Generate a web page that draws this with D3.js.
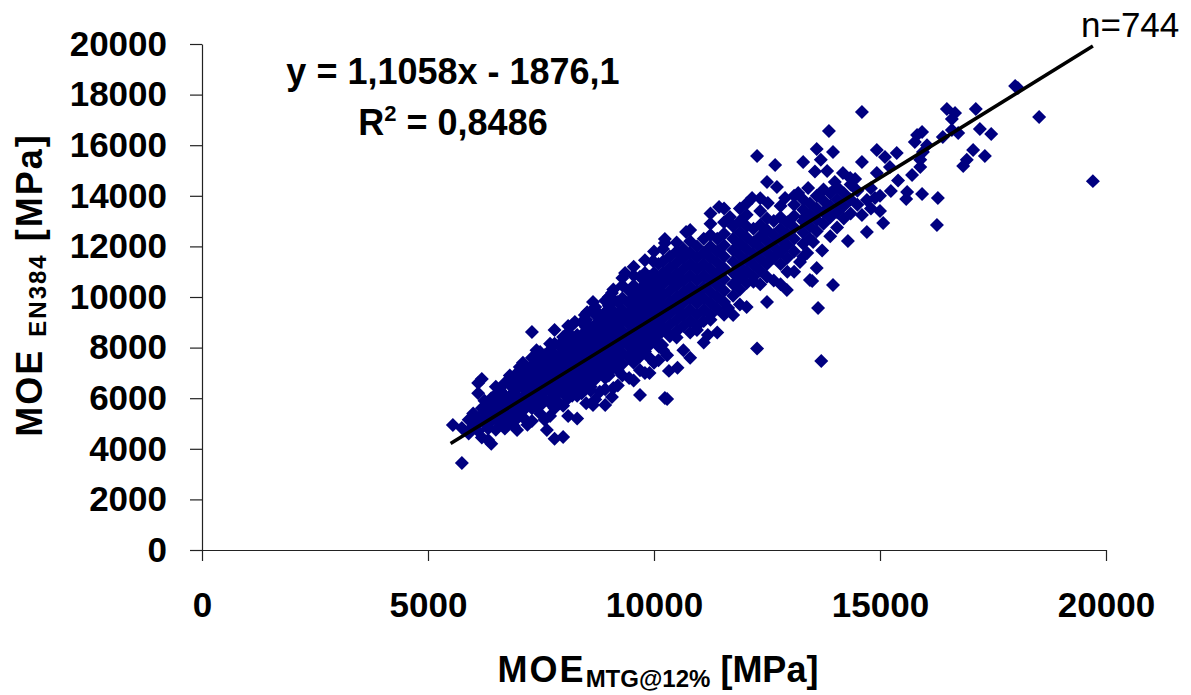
<!DOCTYPE html>
<html><head><meta charset="utf-8">
<script src="https://cdn.jsdelivr.net/npm/d3@7"></script>
<style>
html,body{margin:0;padding:0;background:#fff;}
svg{display:block;font-family:Arial,"Liberation Sans",sans-serif;}
</style></head><body>
<svg id="chart" width="1191" height="695"></svg>
<script>
// ---- data ----
const xTicks = [0, 5000, 10000, 15000, 20000];
const yTicks = [0, 2000, 4000, 6000, 8000, 10000, 12000, 14000, 16000, 18000, 20000];
const fitSlope = 1.1058;
const fitIntercept = -1876.1;
const fitRange = [5500, 19710];
const equationLabel = "y = 1,1058x - 1876,1";
const r2Label = "0,8486";
const sampleLabel = "n=744";
// each entry: [MOE_MTG, [MOE_EN384 values at that MOE_MTG]]
const columns = [
[5550,[4940]],[5750,[4820,3440]],[5900,[4600,5150]],[6000,[4900,5400]],
[6110,[4700,5200,6200,6600]],[6190,[4450,5600,6760]],[6250,[5000,5450,5900]],
[6330,[4350,4800,5300,5650]],[6400,[4200,5100,5500,6000]],[6500,[4750,5250,5700,6150,6450]],
[6600,[5000,5450,5900,6300]],[6700,[4800,5300,5750,6100,6600]],[6810,[5100,5550,6000,6520,6900]],
[6900,[4900,5400,5800,6250,6700]],[6970,[4740,5200,5650,6100,6550,7000]],[7030,[5900,7230]],
[7100,[5250,5500,6000,6400,6800,7400]],[7200,[4950,5750,6200,6650,7050]],
[7300,[5100,5600,6050,6500,6900,7300,7600,8620]],[7400,[5650,5900,6350,6750,7150,7550,7900]],
[7480,[5400,5700,6150,6600,7000,7400,7830]],[7580,[5150,5950,6400,6800,7250,7700]],
[7630,[4740]],[7700,[5300,5800,6250,6650,7050,7500,7900,8150]],
[7800,[4400,5600,6050,6500,6900,7300,7750,8150,8700]],[7900,[5800,6350,6750,7150,7600,8100]],
[7990,[4470,5700,6200,6600,7000,7450,7850,8250,8420]],[8100,[5300,6000,6450,6850,7300,7700,8100,8600,8850]],
[8190,[6100,6250,6700,7150,7550,7950,8350,8890]],[8250,[9010]],
[8300,[5200,6100,6550,7000,7400,7800,8250,8500]],[8400,[6200,6350,6800,7250,7650,8050,8500,9000]],
[8470,[9290]],[8500,[5800,6650,7100,7500,7900,8350,8800,9100]],[8520,[9400]],
[8600,[6300,6450,6900,7350,7750,8150,8600,8800]],[8650,[5730,9500,9800]],
[8700,[5950,6750,7200,7600,8000,8450,8900,9300,9600]],[8800,[6250,7000,7450,7850,8250,8700,9150,9300]],
[8920,[5730,6350,6800,7250,7700,8100,8500,8950,9400,9850]],[9000,[6900,7050,7500,7950,8350,8750,9200,9650,10000]],
[9070,[6050,10160]],[9100,[6400,7300,7750,8200,8600,9000,9450,9900,10300]],
[9200,[6500,7100,7550,8000,8400,8850,9250,9800]],[9300,[6900,7350,7800,8250,8650,9100,9500,9950,10450,10750]],
[9360,[10950]],[9450,[6800,7600,8050,8500,8900,9300,9750,10250]],
[9550,[6700,7400,7850,8300,8700,9150,9550,10000,10450,10850,11200]],
[9690,[6130,7100,7650,8100,8500,8950,9400,9800,10250,10800]],
[9800,[7000,7850,8300,8750,9200,9600,10050,10500,10950,11450]],
[9900,[7000,7600,8100,8550,9000,9400,9850,10300,10800]],[9980,[11420]],
[10000,[7400,8300,8750,9200,9650,10100,10550,10950,11800]],
[10100,[7500,8050,8500,8950,9400,9850,10300,10750,11300]],[10180,[8100]],
[10200,[7900,8700,9150,9600,10050,10500,10950,11400,11900]],[10240,[6010,12130,12290]],
[10290,[5970,7700]],[10330,[7080]],
[10350,[8450,8900,9350,9800,10250,10700,11150,11600]],[10520,[7200]],
[10500,[8400,8650,9100,9550,10000,10450,10900,11350,11800,12150]],[10580,[11740]],
[10650,[7900,8850,9300,9750,10200,10650,11100,11550,11900]],[10710,[12570]],
[10800,[7600,8600,9050,9500,9950,10400,10850,11300,11750,12200,12650]],
[10950,[8700,8850,9300,9750,10200,10650,11100,11550,12000]],
[11100,[8200,9050,9500,9950,10400,10850,11300,11750,12300]],[11190,[8500]],
[11250,[9100,9300,9750,10200,10650,11100,11550,12000,12450,12900,13300]],
[11400,[8600,9550,10000,10450,10900,11350,11800,12300]],[11440,[13560]],
[11550,[9300,9800,10250,10700,11150,11600,12050,12500,12950,13500]],[11640,[9570]],[11680,[13160]],
[11750,[9290,10050,10500,10950,11400,11850,12300,12800]],
[11900,[9700,10300,10750,11200,11650,12100,12550,13000,13500]],
[12050,[9600,10550,11000,11450,11900,12350,12800,13250,13700]],[12170,[13910]],
[12200,[10600,10800,11250,11700,12150,12700]],[12280,[7960,15570]],
[12350,[10500,11050,11500,11950,12400,12850,13400,13900]],
[12500,[9800,10800,11300,11750,12200,12650,13100,14550]],[12520,[13720]],
[12650,[10650,11550,12000,12450,13000]],[12680,[15220]],[12720,[14350]],
[12800,[10500,11300,11800,12250,12700,13150,13600]],[12900,[13910]],[12940,[10280]],
[12950,[11000,11550,12050,12500,12950]],[13100,[11000,11800,12300,12750,13200,13650,14000]],
[13190,[14110]],[13230,[11380]],[13300,[11600,12100,12550,13000,13450,13850,15340]],
[13340,[13160]],[13390,[11740]],[13410,[14310]],[13450,[10670,12300,12800,13250,13700]],
[13500,[10630]],[13520,[12170]],[13560,[14960]],[13600,[11150,12600,13050,13500,14000,15850]],
[13630,[9570]],[13690,[15420]],[13700,[7470]],[13720,[11840]],[13750,[12900,13350,13800,14250]],
[13830,[14980]],[13870,[16560]],[13900,[12400,13150,13600,14100]],[13960,[10470,15730]],
[14000,[14550]],[14050,[12750,13350,13850,14350]],[14180,[14900]],[14200,[13100,13600,14100]],
[14290,[12210]],[14340,[14700]],[14350,[13300,13850,14450]],[14450,[14660]],[14500,[13650,14200]],
[14600,[13240,15340,17310]],[14710,[12570,13830]],[14800,[13500,14300]],[14890,[13910]],
[14930,[14900,15810]],[15000,[13400,14000]],[15070,[12920]],[15110,[15530]],[15220,[15140]],
[15240,[14190]],[15370,[15690]],[15400,[14600]],[15580,[13870]],[15600,[14150]],[15710,[14820]],
[15770,[16130]],[15820,[16400]],[15890,[15140,15420]],[15930,[14070,16520]],[15950,[15730]],
[16040,[16000]],[16260,[12850]],[16280,[13910]],[16390,[16320]],[16480,[17430]],
[16590,[16600,17040]],[16660,[17270]],[16730,[16480]],[16840,[15180]],[16920,[15420]],
[17060,[15810]],[17120,[17430]],[17210,[16640]],[17320,[15570]],[17460,[16440]],
[17990,[18340]],[18050,[18260]],[18520,[17110]],[19710,[14580]]
];
const points = columns.flatMap(([x, ys]) => ys.map(y => [x, y]));

// ---- layout ----
const svg = d3.select("#chart");
const x = d3.scaleLinear().domain([0, 20000]).range([202, 1106]);
const y = d3.scaleLinear().domain([0, 20000]).range([550, 44]);
const tickFont = "bold 35px Arial, 'Liberation Sans', sans-serif";

// axes
const gx = svg.append("g").attr("transform", `translate(0,${y(0)})`)
  .call(d3.axisBottom(x).tickValues(xTicks).tickFormat(d3.format("d")).tickSizeInner(11).tickSizeOuter(0).tickPadding(31));
const gy = svg.append("g").attr("transform", `translate(${x(0)},0)`)
  .call(d3.axisLeft(y).tickValues(yTicks).tickFormat(d3.format("d")).tickSizeInner(12).tickSizeOuter(0).tickPadding(23));
[gx, gy].forEach(g => {
  g.select(".domain").attr("stroke", "#222").attr("stroke-width", 1.2);
  g.selectAll(".tick line").attr("stroke", "#222").attr("stroke-width", 1.2);
  g.selectAll(".tick text").attr("fill", "#000").style("font", tickFont);
});

// points
const diamond = d3.symbol().type(d3.symbolSquare).size(98)();
svg.append("g").selectAll("path").data(points).join("path")
  .attr("d", diamond)
  .attr("transform", d => `translate(${x(d[0])},${y(d[1])}) rotate(45)`)
  .attr("fill", "#000080");

// regression line
const fitLine = fitRange.map(v => [v, fitSlope * v + fitIntercept]);
svg.append("path").datum(fitLine)
  .attr("d", d3.line().x(d => x(d[0])).y(d => y(d[1])))
  .attr("stroke", "#000").attr("stroke-width", 3.5).attr("fill", "none");

// annotations
svg.append("text").attr("x", 453).attr("y", 84).attr("text-anchor", "middle")
  .style("font", "bold 36px Arial, 'Liberation Sans', sans-serif").text(equationLabel);
const r2 = svg.append("text").attr("x", 453).attr("y", 135).attr("text-anchor", "middle")
  .style("font", "bold 36px Arial, 'Liberation Sans', sans-serif");
r2.append("tspan").text("R");
r2.append("tspan").attr("dy", -14).style("font-size", "22px").text("2");
r2.append("tspan").attr("dy", 14).text(" = " + r2Label);
svg.append("text").attr("x", 1081).attr("y", 37)
  .style("font", "35px Arial, 'Liberation Sans', sans-serif").text(sampleLabel);

// axis titles
const xt = svg.append("text").attr("x", 658).attr("y", 682).attr("text-anchor", "middle")
  .style("font", "bold 36px Arial, 'Liberation Sans', sans-serif");
xt.append("tspan").style("letter-spacing", "2px").text("MOE");
xt.append("tspan").attr("dy", 5).style("font-size", "24px").text("MTG@12%");
xt.append("tspan").attr("dy", -5).text(" [MPa]");

const yt = svg.append("text").attr("transform", "translate(42,285) rotate(-90)").attr("text-anchor", "middle")
  .style("font", "bold 36px Arial, 'Liberation Sans', sans-serif").style("letter-spacing", "2px");
yt.append("tspan").text("MOE ");
yt.append("tspan").attr("dy", 4).style("font-size", "24px").text("EN384");
yt.append("tspan").attr("dy", -4).text(" [MPa]");
</script>
</body></html>
